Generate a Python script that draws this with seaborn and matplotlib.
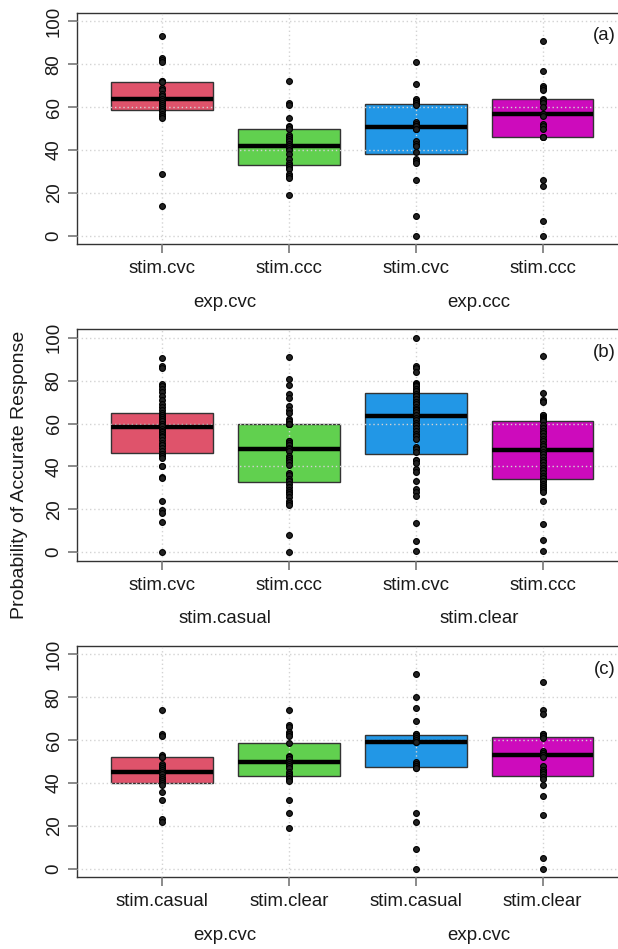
import matplotlib
matplotlib.use("Agg")
import matplotlib.pyplot as plt
import seaborn as sns
import pandas as pd

box_colors = ["#DF536B", "#61D04F", "#2297E6", "#CD0BBC"]

# panel (a)
a_red = [93, 83, 82, 81, 72, 72, 71.5, 69, 68, 66, 65, 64, 63, 62, 61, 60, 59, 58, 57, 56, 55, 29, 14]
a_green = [72, 62, 61, 55, 51, 50.5, 50, 47, 46, 45, 44, 43, 42, 41, 40, 38, 36, 34, 33, 32, 31, 29, 28, 27, 19]
a_blue = [81, 71, 64, 63, 62, 62, 61, 53, 52, 51, 51, 51, 50, 50, 44, 43, 42, 39, 36, 35, 34, 26, 9, 0]
a_magenta = [91, 77, 70, 69, 68, 64, 63.5, 63, 62, 60, 57, 57, 56, 52, 51, 50, 46, 46, 46, 26, 23, 7, 0]
a_ticks = ["stim.cvc", "stim.ccc", "stim.cvc", "stim.ccc"]
a_groups = ["exp.cvc", "exp.ccc"]

# panel (b)
b_red = [90.5, 87, 86, 78.6, 77.4, 76.3, 74.7, 72.7, 70.9, 69.3, 67.8, 66.2, 65.1,
         64.2, 64, 63.1, 63, 62.2, 62, 61.2, 61, 60, 60, 59, 58.8, 57.5,
         56.3, 56, 55, 54, 53.8, 52.2, 51, 50, 49.8, 48.7, 47.3, 46, 45.7,
         45, 44, 40.2, 40, 35.2, 34.4, 24, 19.7, 18.1, 14, 0]
b_green = [91, 81, 78, 74, 72, 68, 66.5, 65, 62, 61, 60, 60, 60, 60, 52, 52, 51, 51, 50, 50,
           48.5, 48, 47, 45, 44, 43, 42, 40.5, 37, 36, 34, 33, 32, 30.5, 29, 28, 27, 25.5,
           24, 23, 22, 8, 0]
b_blue = [100, 87, 86, 84, 79, 78.6, 78, 77.5, 76.3, 76, 75.2, 75,
          74, 73, 72.7, 71.5, 70.2, 70, 69, 67.8, 67, 66.5, 65.3, 64,
          62.8, 61.6, 60.3, 59.1, 57.8, 56.6, 55.3, 54.1, 53, 49.1, 47.9, 46.8,
          43, 42.9, 41.4, 39, 37.5, 33.2, 29.3, 28.2, 26.2, 13.5, 5.4, 0.3]
b_magenta = [91.3, 74.3, 71.2, 70.1, 64, 63.9, 63, 62.8, 62, 62, 61.6,
             61, 59.2, 58, 56.7, 55.5, 54.3, 53, 51.8, 50.5, 49.3, 48.1,
             46.8, 45.6, 44.3, 43.1, 41.9, 40.6, 39.4, 38.1, 36.9, 35.7, 34.4,
             33.2, 33, 31.9, 30.7, 30, 29, 28.2, 24, 12.9, 5.7, 0.3]
b_ticks = ["stim.cvc", "stim.ccc", "stim.cvc", "stim.ccc"]
b_groups = ["stim.casual", "stim.clear"]

# panel (c)
c_red = [74, 63, 62, 53, 52, 52, 49, 48, 47, 46, 45, 44, 43, 42, 41, 40, 39, 36, 32, 23, 22]
c_green = [74, 67, 66, 64, 63, 62, 58.5, 52.5, 52, 52, 51, 51, 50, 49, 48, 47, 45, 44, 43.5,
           42.5, 42, 41, 32, 26, 19]
c_blue = [91, 80, 75, 69, 63, 63, 62, 62, 61, 60, 59, 59, 50, 49, 49, 48, 48, 47, 47, 26, 22, 9, 0]
c_magenta = [87, 74, 72, 63, 63, 62, 62, 61, 55, 54, 54, 53, 53, 53, 52, 48, 46, 46, 45, 44,
             43, 42, 39, 34, 25, 5, 0]
c_ticks = ["stim.casual", "stim.clear", "stim.casual", "stim.clear"]
c_groups = ["exp.cvc", "exp.cvc"]

sns.set_style("white")
plt.rcParams['font.family'] = ['Liberation Sans', 'DejaVu Sans']

FS = 13.4


def make_frame(groups):
    rows = []
    for i, vals in enumerate(groups):
        for v in vals:
            rows.append({"cond": f"g{i}", "value": v})
    return pd.DataFrame(rows)


def draw_panel(ax, groups, ticks, group_names, tag):
    df = make_frame(groups)
    order = [f"g{i}" for i in range(len(groups))]
    sns.boxplot(data=df, x="cond", y="value", hue="cond", order=order, hue_order=order,
                palette=box_colors, legend=False, saturation=1, width=0.8,
                whis=0, showfliers=False, linecolor="#333333", linewidth=1,
                medianprops={"color": "black", "linewidth": 3.2, "zorder": 3},
                whiskerprops={"linewidth": 0}, capprops={"linewidth": 0}, ax=ax)
    sns.stripplot(data=df, x="cond", y="value", order=order, jitter=False,
                  color="#222222", edgecolor="black", linewidth=0.8, size=4.2,
                  ax=ax, zorder=4)

    ax.set_xlim(-0.665, 3.593)
    ax.set_ylim(-4, 104)
    ax.set_yticks([0, 20, 40, 60, 80, 100])
    ax.set_xticks(range(4))
    ax.set_xticklabels(ticks)
    ax.set_xlabel("")
    ax.set_ylabel("")

    ax.grid(True, color="#d3d3d3", linestyle=(0, (1, 2)), linewidth=1)
    ax.set_axisbelow(False)

    ax.spines["right"].set_visible(False)
    for s in ["left", "top", "bottom"]:
        ax.spines[s].set_color("#333333")
        ax.spines[s].set_linewidth(1)

    ax.tick_params(axis="both", direction="out", length=6.5, width=1.2, color="#777777",
                   labelsize=FS, labelcolor="#1a1a1a", bottom=True, left=True)
    ax.tick_params(axis="x", pad=5)
    ax.tick_params(axis="y", pad=4, labelrotation=90)
    plt.setp(ax.get_yticklabels(), va="center")

    for gx, name in zip([0.5, 2.5], group_names):
        ax.text(gx, -0.25, name, transform=ax.get_xaxis_transform(),
                ha="center", va="center", fontsize=FS, color="#1a1a1a")
    ax.text(0.995, 0.9, tag, transform=ax.transAxes, ha="right", va="center",
            fontsize=FS, color="#1a1a1a")


fig = plt.figure(figsize=(6.18, 9.49), dpi=100)
ax_a = fig.add_axes([0.1251, 0.7426, 0.8749, 0.2439])
ax_b = fig.add_axes([0.1251, 0.4092, 0.8749, 0.2439])
ax_c = fig.add_axes([0.1251, 0.0755, 0.8749, 0.2439])

draw_panel(ax_a, [a_red, a_green, a_blue, a_magenta], a_ticks, a_groups, "(a)")
draw_panel(ax_b, [b_red, b_green, b_blue, b_magenta], b_ticks, b_groups, "(b)")
draw_panel(ax_c, [c_red, c_green, c_blue, c_magenta], c_ticks, c_groups, "(c)")

fig.text(0.032, 0.5, "Probability of Accurate Response", rotation=90,
         ha="center", va="center", fontsize=14, color="#1a1a1a")

fig.savefig("out.png", dpi=100)
